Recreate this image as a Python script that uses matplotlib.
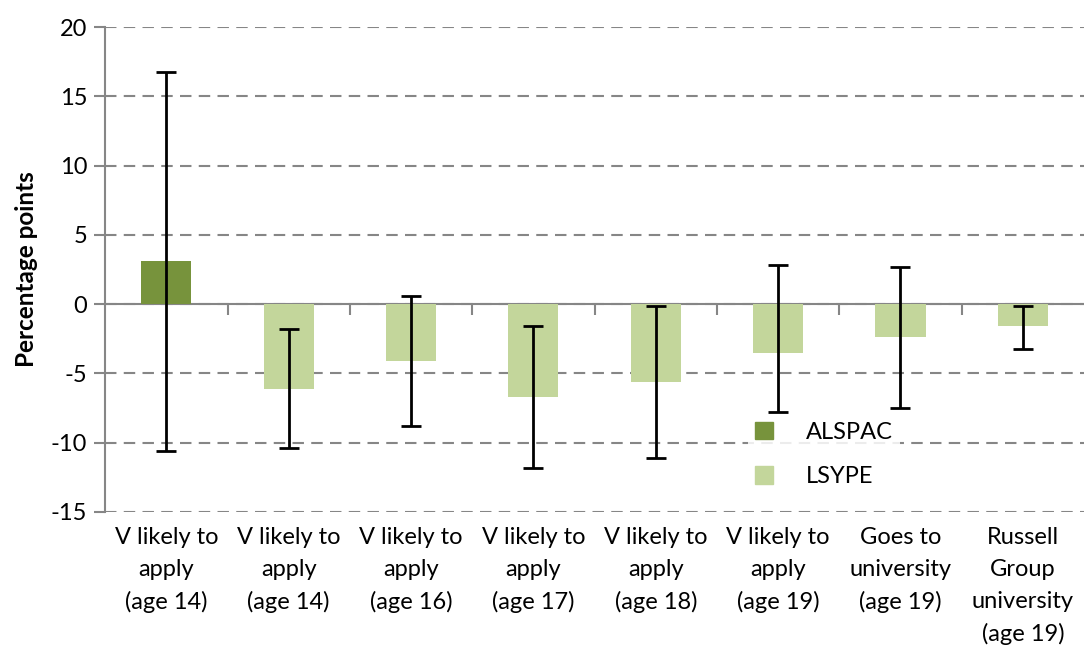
import numpy as np
import matplotlib
matplotlib.use("Agg")
import matplotlib.pyplot as plt
from matplotlib.patches import Patch
from matplotlib.transforms import blended_transform_factory

plt.rcParams['font.family'] = ['Lato', 'DejaVu Sans']
plt.rcParams['axes.unicode_minus'] = False

categories = ["V likely to\napply\n(age 14)", "V likely to\napply\n(age 14)",
              "V likely to\napply\n(age 16)", "V likely to\napply\n(age 17)",
              "V likely to\napply\n(age 18)", "V likely to\napply\n(age 19)",
              "Goes to\nuniversity\n(age 19)", "Russell\nGroup\nuniversity\n(age 19)"]
series = ["ALSPAC", "LSYPE", "LSYPE", "LSYPE", "LSYPE", "LSYPE", "LSYPE", "LSYPE"]
values = [3.1, -6.1, -4.1, -6.7, -5.6, -3.5, -2.4, -1.6]
ci_low = [-10.6, -10.4, -8.8, -11.8, -11.1, -7.8, -7.5, -3.2]
ci_high = [16.8, -1.8, 0.6, -1.6, -0.1, 2.8, 2.7, -0.1]

colors = {"ALSPAC": "#77933C", "LSYPE": "#C3D69B"}
grey = "#868686"

fig = plt.figure(figsize=(10.84, 6.48), dpi=100)
ax = fig.add_axes([0.097, 0.21, 0.903, 0.748])

x = np.arange(len(values))
vals = np.array(values)
err = [vals - np.array(ci_low), np.array(ci_high) - vals]
ax.bar(x, vals, width=0.41, color=[colors[s] for s in series], zorder=2)
ax.errorbar(x, vals, yerr=err, fmt='none', ecolor='black', elinewidth=2,
            capsize=7, capthick=2, zorder=3)

ax.set_xlim(-0.5, len(values) - 0.5)
ax.set_ylim(-15, 20)
ax.set_yticks(np.arange(-15, 21, 5))
ax.yaxis.grid(True, linestyle=(0, (5.5, 3.5)), color=grey, linewidth=1.5, zorder=0)
ax.set_axisbelow(True)

for s in ['top', 'right']:
    ax.spines[s].set_visible(False)
ax.spines['left'].set_color(grey)
ax.spines['left'].set_linewidth(1.5)
ax.spines['bottom'].set_position(('data', 0))
ax.spines['bottom'].set_color(grey)
ax.spines['bottom'].set_linewidth(1.5)
ax.spines['bottom'].set_zorder(1)

ax.set_xticks(np.arange(0.5, len(values) - 0.5, 1))
ax.tick_params(axis='x', length=8, width=1.5, color=grey, labelbottom=False)
ax.tick_params(axis='y', length=8, width=1.5, color=grey, labelsize=17, pad=5)

trans = blended_transform_factory(ax.transData, ax.transAxes)
for i, lab in enumerate(categories):
    ax.text(i, -0.032, lab, transform=trans, ha='center', va='top',
            fontsize=17, linespacing=1.62)

ax.set_ylabel("Percentage points", fontsize=17.5, fontweight='bold', labelpad=9)

handles = [Patch(color=colors["ALSPAC"]), Patch(color=colors["LSYPE"])]
ax.legend(handles, ["ALSPAC", "LSYPE"], loc='upper left',
          bbox_to_anchor=(0.645, 0.225), frameon=True, framealpha=0.85,
          edgecolor='none', fontsize=17, handlelength=0.75, handleheight=0.75,
          handletextpad=1.4, labelspacing=1.0, borderpad=0.3)

fig.savefig("out.png", dpi=100)
